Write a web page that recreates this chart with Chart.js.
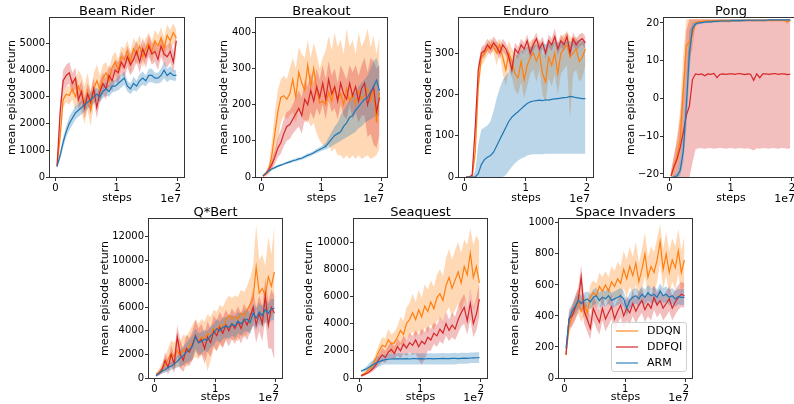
<!DOCTYPE html>
<html>
<head>
<meta charset="utf-8">
<script src="https://cdn.jsdelivr.net/npm/chart.js@4.4.1/dist/chart.umd.min.js"></script>
<style>
html, body { margin:0; padding:0; background:#fff; overflow:hidden; }
#wrap { position:relative; width:794px; height:404px; overflow:hidden; font-family:'DejaVu Sans', sans-serif; color:#000; }
canvas { position:absolute; }
.title { position:absolute; width:200px; text-align:center; font-size:13px; line-height:15px; white-space:nowrap; }
.offset { position:absolute; width:60px; text-align:right; font-size:11px; line-height:13px; }
.legend { position:absolute; box-sizing:border-box; border:1px solid #d0d0d0; border-radius:3px; background:rgba(255,255,255,0.8); }
.legend .row { position:absolute; left:0; height:14px; font-size:11px; line-height:14px; }
.legend .swatch { position:absolute; left:4px; top:6px; width:22px; height:2px; }
.legend .lbl { position:absolute; left:35px; top:0; white-space:nowrap; }
</style>
</head>
<body>
<div id="wrap"></div>
<script>
// training steps, in millions
const STEPS_M = [0.25,0.75,1.25,1.75,2.25,2.75,3.25,3.75,4.25,4.75,5.25,5.75,6.25,6.75,7.25,7.75,8.25,8.75,9.25,9.75,
                 10.25,10.75,11.25,11.75,12.25,12.75,13.25,13.75,14.25,14.75,15.25,15.75,16.25,16.75,17.25,17.75,18.25,18.75,19.25,19.75];
const X_TICKS = [0, 1e7, 2e7];
const SERIES = ['DDQN', 'DDFQI', 'ARM'];

// --- Beam Rider
const BR_YTICKS = [0,1000,2000,3000,4000,5000];
const BR_DDQN    = [400,1500,2900,3100,3050,3300,3000,3400,3100,2700,3200,2500,3300,3600,3300,3700,3900,3600,4100,4300,4000,4500,4400,4700,4300,4800,4600,4900,4500,4800,5000,4700,5100,4900,5200,4800,5300,5100,5400,5200];
const BR_DDQN_LO = [350,1200,2600,2800,2700,2900,2500,2800,2400,2000,2500,1900,2700,3000,2800,3200,3500,3200,3700,3900,3600,4100,4000,4300,3900,4400,4200,4500,4100,4400,4600,4300,4700,4500,4800,4400,4900,4700,5000,4900];
const BR_DDQN_HI = [450,1800,3200,3400,3400,3700,3500,4000,3800,3400,3900,3200,3900,4200,3800,4200,4300,4000,4500,4700,4400,4900,4800,5100,4700,5200,5000,5300,4900,5200,5400,5100,5500,5300,5600,5200,5700,5500,5750,5500];
const BR_DDFQI    = [400,2400,3600,3800,3900,3500,3700,2900,3200,2600,3100,2800,3300,2600,3200,3500,3300,3800,3600,4000,3900,4300,4100,4500,4200,4400,4700,4300,4800,4500,4900,4600,4700,4400,4900,4600,4500,4700,4300,5100];
const BR_DDFQI_LO = [350,2000,3200,3400,3500,3100,3300,2500,2800,2200,2700,2400,2900,2200,2800,3100,2900,3400,3200,3600,3500,3900,3700,4100,3800,4000,4300,3900,4400,4100,4500,4200,4300,4000,4500,4200,4100,4300,3900,4700];
const BR_DDFQI_HI = [450,2800,4000,4200,4300,3900,4100,3300,3600,3000,3500,3200,3700,3000,3600,3900,3700,4200,4000,4400,4300,4700,4500,4900,4600,4800,5100,4700,5200,4900,5300,5000,5100,4800,5300,5000,4900,5100,4700,5400];
const BR_ARM    = [400,800,1300,1700,2000,2200,2400,2500,2600,2700,2800,2900,3000,3100,3000,3200,3300,3200,3400,3400,3500,3600,3700,3400,3300,3500,3400,3600,3700,3600,3800,3800,3700,3700,3800,4000,3800,3900,3800,3800];
const BR_ARM_LO = [350,650,1100,1500,1750,1950,2150,2250,2350,2450,2550,2650,2750,2850,2800,2950,3050,3000,3150,3200,3250,3350,3450,3200,3100,3250,3200,3350,3450,3400,3550,3550,3500,3500,3550,3700,3550,3650,3600,3600];
const BR_ARM_HI = [450,950,1500,1900,2250,2450,2650,2750,2850,2950,3050,3150,3250,3350,3200,3450,3550,3400,3650,3600,3750,3850,3950,3600,3500,3750,3600,3850,3950,3800,4050,4050,3900,3900,4050,4300,4050,4150,4000,4000];

// --- Breakout
const BO_YTICKS = [0,100,200,300,400];
const BO_DDQN    = [2,8,20,60,120,180,220,225,215,230,270,220,290,260,240,310,250,300,240,205,210,200,235,210,250,215,230,200,245,210,230,200,240,215,225,245,210,240,150,235];
const BO_DDQN_LO = [0,2,8,20,50,100,150,170,160,170,180,150,190,170,150,160,140,150,120,100,90,80,90,70,80,60,60,50,60,50,60,50,60,50,55,60,50,55,60,80];
const BO_DDQN_HI = [5,15,35,100,180,240,270,280,270,300,330,300,360,340,330,380,330,370,340,300,330,350,390,350,400,360,380,340,410,360,380,340,400,360,380,410,360,390,340,390];
const BO_DDFQI    = [3,10,20,35,55,80,95,120,140,145,160,175,190,170,215,200,240,210,250,220,260,215,270,230,250,210,260,230,215,260,225,250,210,245,260,200,230,250,180,220];
const BO_DDFQI_LO = [0,5,12,22,35,55,65,85,100,105,120,130,140,120,160,150,180,160,190,170,200,160,210,180,190,160,200,170,160,200,160,180,150,170,170,110,120,90,80,120];
const BO_DDFQI_HI = [5,15,30,50,75,110,130,160,180,185,200,220,240,220,270,250,290,260,300,270,310,270,320,280,300,260,310,290,270,310,290,310,280,310,330,290,330,320,300,310];
const BO_ARM    = [3,10,17,22,26,30,33,36,39,42,45,47,50,52,56,60,63,67,72,76,80,85,95,105,115,120,125,140,150,165,170,185,195,205,215,220,235,250,268,238];
const BO_ARM_LO = [2,8,14,19,23,27,30,33,36,38,41,43,46,48,51,55,58,62,66,70,73,76,80,85,90,95,100,105,110,115,120,125,135,140,150,155,160,165,170,170];
const BO_ARM_HI = [4,12,20,25,29,33,36,39,42,46,49,51,54,56,61,65,68,72,78,82,88,95,110,125,140,150,170,185,200,215,225,235,250,260,270,280,300,320,330,300];

// --- Enduro
const EN_YTICKS = [0,100,200,300];
const EN_DDQN    = [0,0,0,60,220,290,300,310,320,315,300,320,290,260,300,280,250,240,280,235,270,290,300,280,300,250,230,290,270,300,250,300,310,320,290,300,310,280,290,310];
const EN_DDQN_LO = [0,0,0,40,200,270,280,295,305,300,270,300,250,220,260,240,210,200,230,190,220,250,260,230,260,200,180,240,220,250,200,250,260,270,140,250,260,230,240,270];
const EN_DDQN_HI = [0,0,2,80,240,305,315,325,335,330,325,335,320,300,330,310,300,290,320,290,320,330,335,320,335,300,290,330,320,340,310,340,345,350,340,335,340,320,330,330];
const EN_DDFQI    = [0,0,5,120,260,300,305,320,310,325,315,300,320,310,290,260,310,300,320,310,330,300,320,335,310,325,300,330,320,340,310,330,320,340,300,335,320,330,335,325];
const EN_DDFQI_LO = [0,0,2,100,245,285,290,305,295,310,300,285,305,295,275,245,295,285,305,295,315,285,305,320,295,310,285,315,305,325,295,315,305,325,285,320,305,315,320,310];
const EN_DDFQI_HI = [0,0,8,140,275,315,320,335,325,340,330,315,335,325,305,275,325,315,335,325,345,315,335,350,325,340,315,345,335,360,325,345,335,355,315,350,335,345,350,340];
const EN_ARM    = [0,0,0,0,8,30,42,48,52,60,75,90,105,120,135,145,152,158,165,172,178,182,184,185,186,185,187,186,188,189,190,191,192,193,195,194,192,191,190,190];
const EN_ARM_LO = [0,0,0,0,0,0,0,0,0,0,0,0,0,5,15,25,33,40,45,48,52,54,55,55,55,55,56,56,56,56,56,56,56,56,56,56,56,56,56,56];
const EN_ARM_HI = [0,0,0,15,80,115,120,125,135,160,190,215,235,245,255,270,290,300,305,310,315,315,318,320,320,322,322,324,325,326,326,327,328,328,329,329,330,330,330,330];

// --- Pong
const PO_YTICKS = [-20,-10,0,10,20];
const PO_DDQN    = [-20.5,-18,-15,-11,2,14,15,17,20,20.3,20.4,20.5,20.5,20.5,20.6,20.6,20.5,20.6,20.6,20.5,20.6,20.6,20.6,20.7,20.6,20.7,20.7,20.6,20.7,20.7,20.6,20.7,20.7,20.6,20.7,20.7,20.6,20.7,20.3,20.7];
const PO_DDQN_LO = [-21,-21,-19,-16,-8,5,10,13,19.5,19.8,20,20.1,20.2,20.2,20.3,20.3,20.2,20.3,20.3,20.2,20.3,20.3,20.3,20.4,20.3,20.4,20.4,20.3,20.4,20.4,20.3,20.4,20.4,20.3,20.4,20.4,20.3,20.4,19.8,20.4];
const PO_DDQN_HI = [-19.5,-15,-10,-3,12,21,21,21,21,21,21,21,21,21,21,21,21,21,21,21,21,21,21,21,21,21,21,21,21,21,21,21,21,21,21,21,21,21,21,21];
const PO_DDFQI    = [-20.5,-18,-16,-13,-9,-4.5,-2,5,6.5,6.3,6.5,6.0,6.5,6.4,6.6,5.5,6.4,6.5,6.4,6.5,6.5,6.4,6.6,6.5,6.3,6.5,6.4,4.8,6.5,5.5,6.5,6.5,6.4,6.5,6.6,6.4,6.5,6.5,6.3,6.4];
const PO_DDFQI_LO = [-21,-21,-21,-21,-21,-21,-21,-17,-13.5,-13.2,-13.2,-13.3,-13.2,-13.1,-13.3,-13.2,-13.1,-13.2,-13.3,-13.1,-13.2,-13.3,-13.2,-13.1,-13.3,-13.2,-13.4,-13.8,-13.2,-13.3,-13.1,-13.2,-13.3,-13.1,-13.2,-13.3,-13.1,-13.2,-13.3,-13.2];
const PO_DDFQI_HI = [-19,-15,-11,-5,5,18,21,21,21,21,21,21,21,21,21,21,21,21,21,21,21,21,21,21,21,21,21,21,21,21,21,21,21,21,21,21,21,21,21,21];
const PO_ARM    = [-21,-20.8,-20.5,-19,-14,-2,12,18.5,19.7,20,20.1,20.2,20.3,20.3,20.4,20.4,20.5,20.5,20.5,20.5,20.6,20.6,20.6,20.6,20.7,20.7,20.7,20.7,20.7,20.7,20.7,20.7,20.8,20.8,20.8,20.8,20.8,20.8,20.8,20.8];
const PO_ARM_LO = [-21,-21,-21,-20.5,-17,-8,6,17.5,19.2,19.6,19.8,19.9,20,20,20.1,20.1,20.2,20.2,20.2,20.2,20.3,20.3,20.3,20.3,20.4,20.4,20.4,20.4,20.4,20.4,20.4,20.4,20.5,20.5,20.5,20.5,20.5,20.5,20.5,20.5];
const PO_ARM_HI = [-20.8,-20.4,-19.5,-16,-8,5,18,20,20.3,20.5,20.5,20.6,20.7,20.7,20.8,20.8,20.9,20.9,20.9,20.9,21,21,21,21,21,21,21,21,21,21,21,21,21,21,21,21,21,21,21,21];

// --- Q*Bert
const QB_YTICKS = [0,2000,4000,6000,8000,10000,12000];
const QB_DDQN    = [300,500,800,1100,1600,2100,1800,2300,2000,2400,2200,2700,3000,3400,3100,3500,3300,3800,3600,4200,4000,4500,4300,4900,5300,5000,5200,5000,5500,5300,5800,6200,6800,9400,7200,7600,7000,8600,7800,9000];
const QB_DDQN_LO = [200,300,400,500,800,1000,700,1000,800,1100,900,1300,1500,1800,1600,2000,1800,600,1500,2500,2300,2800,2700,3200,3500,3200,3300,3100,3600,3400,3800,4000,4500,6000,4800,5000,4500,5500,5000,6000];
const QB_DDQN_HI = [400,800,1300,1800,2500,3200,3000,3400,3200,3700,3500,4000,4500,5000,4600,5000,4800,5400,5200,5800,5600,6200,6000,6600,7000,6800,7000,6900,7500,7300,7800,8500,9500,13000,10000,10500,9500,12000,10500,13000];
const QB_DDFQI    = [200,400,700,1500,900,2000,1200,3500,2000,1500,2500,2200,2800,3600,3000,3300,2500,3500,3000,4000,3600,4300,3800,4500,4000,4600,4200,4800,4200,5000,4500,5200,6000,4500,5500,4600,7000,4500,6000,5500];
const QB_DDFQI_LO = [100,200,400,800,300,1000,400,2000,800,500,1200,1000,1500,2300,1800,2000,1200,2200,1800,2700,2300,3000,2500,3200,2700,3300,2900,3500,2900,3700,3200,3900,4500,3000,4000,3100,5000,2500,2500,1500];
const QB_DDFQI_HI = [300,600,1000,2200,1500,2800,2000,4500,3200,2500,3700,3400,4000,4900,4200,4600,3800,4800,4200,5300,4900,5600,5100,5800,5300,5900,5500,6100,5500,6300,5800,6500,7500,6000,7000,6100,8500,6500,7500,7000];
const QB_ARM    = [200,400,600,700,900,1000,1200,1400,1700,1900,2200,2400,2700,3500,3000,3100,3300,3200,3600,3800,4200,4000,4300,4400,4300,4600,4400,4800,4600,4900,5000,4700,5500,5100,5600,5300,5800,5500,5900,5900];
const QB_ARM_LO = [100,250,400,450,600,650,800,900,1000,1100,1300,1400,1600,2500,2000,2100,2300,2200,2600,2800,3200,3000,3300,3400,3300,3600,3400,3800,3600,3900,4000,3700,4500,4100,4600,4300,4800,4500,4900,4900];
const QB_ARM_HI = [300,550,800,950,1200,1400,1600,1900,2400,2700,3000,3300,3600,4200,3800,3900,4100,4000,4400,4600,5000,4800,5100,5200,5100,5400,5200,5600,5400,5700,5800,5500,6300,5900,6400,6100,6600,6300,6700,6700];

// --- Seaquest
const SQ_YTICKS = [0,2000,4000,6000,8000,10000];
const SQ_DDQN    = [200,300,500,700,1000,1500,2000,2400,2300,2800,2500,2600,3000,3500,3200,4000,4300,4800,4300,5000,4500,5300,4900,5600,5100,5900,6200,5700,6800,7400,6600,7200,7800,7000,8200,7600,9200,7400,8200,7000];
const SQ_DDQN_LO = [150,200,350,500,700,1100,1500,1800,1700,2000,1800,1900,2200,2500,2300,2900,3100,3400,3000,3500,3100,3700,3300,4000,3500,4200,4400,4000,4800,5200,4500,5000,5500,4800,5800,5300,6500,5000,5800,4200];
const SQ_DDQN_HI = [250,450,650,900,1300,1900,2500,3000,2900,3600,3200,3400,3800,4500,4200,5200,5500,6200,5600,6500,5900,6900,6500,7200,6700,7600,8000,7500,8800,9500,8700,9400,10000,9200,10200,9800,11000,9800,10500,10000];
const SQ_DDFQI    = [150,250,350,500,700,1000,1400,1700,1500,1900,2100,1800,2300,2000,2500,2200,2600,2400,2800,2300,2700,2500,3000,2800,3300,3100,3600,3300,4000,3500,3900,3600,4300,4800,5200,4200,5500,4000,4700,5800];
const SQ_DDFQI_LO = [100,150,250,350,500,700,1000,1200,1100,1400,1500,1300,1700,1400,1800,1600,1900,1700,1800,1300,1000,1400,2000,2000,2500,2300,2700,2500,3100,2700,3000,2800,3300,3800,4000,3200,4300,3000,3500,4500];
const SQ_DDFQI_HI = [200,350,450,650,900,1300,1800,2200,2000,2400,2700,2300,2900,2600,3100,2800,3300,3100,3500,3200,3600,3400,3800,3600,4100,3900,4500,4100,4900,4300,4800,4500,5300,5800,6200,5200,6600,5200,5900,7000];
const SQ_ARM    = [500,600,700,850,1000,1100,1200,1300,1350,1380,1400,1400,1420,1400,1410,1420,1400,1420,1430,1410,1420,1400,1430,1420,1410,1430,1420,1440,1430,1420,1440,1450,1430,1450,1460,1440,1470,1480,1490,1500];
const SQ_ARM_LO = [450,500,550,600,700,750,850,950,1000,1000,1000,1000,1000,1000,1000,1000,1000,1000,1000,1000,1000,1000,1000,1000,1000,1000,1000,1000,1000,1000,1000,1000,1050,1050,1050,1050,1100,1100,1100,1100];
const SQ_ARM_HI = [550,700,900,1150,1350,1500,1600,1700,1750,1780,1800,1800,1820,1800,1810,1820,1800,1820,1830,1810,1820,1800,1830,1820,1810,1830,1820,1840,1830,1820,1840,1850,1830,1850,1860,1840,1870,1880,1890,1900];

// --- Space Invaders
const SI_YTICKS = [0,200,400,600,800,1000];
const SI_DDQN    = [150,330,400,450,500,430,470,420,520,550,530,590,560,600,560,620,590,640,610,700,640,720,660,740,620,700,800,650,720,680,760,880,700,800,680,760,710,820,680,760];
const SI_DDQN_LO = [130,280,340,380,420,360,400,350,440,470,450,500,470,510,470,520,490,530,500,580,520,590,540,600,500,570,660,520,590,550,620,740,570,660,540,620,570,670,540,600];
const SI_DDQN_HI = [170,380,460,520,580,500,540,490,600,630,610,680,650,690,650,720,690,750,720,820,760,850,780,880,740,830,940,780,850,810,900,990,830,940,820,900,850,960,820,920];
const SI_DDFQI    = [150,380,400,450,500,650,430,380,320,450,400,360,450,380,420,460,380,430,470,400,450,420,480,430,470,500,440,480,450,520,470,500,450,480,510,450,490,520,540,530];
const SI_DDFQI_LO = [130,320,330,370,420,480,350,300,250,370,320,280,370,300,340,380,300,350,390,320,370,340,400,350,390,420,360,400,370,440,390,420,370,400,430,370,410,440,460,450];
const SI_DDFQI_HI = [170,440,470,530,580,730,510,460,400,530,480,440,530,460,500,540,460,510,550,480,530,500,560,510,550,580,520,560,530,600,550,580,530,560,590,530,570,600,620,610];
const SI_ARM    = [190,380,430,460,500,480,500,510,490,520,530,500,520,510,530,500,510,520,530,510,450,500,520,530,510,540,520,550,530,540,520,560,530,540,520,530,510,525,520,520];
const SI_ARM_LO = [170,340,390,410,450,430,450,460,440,470,480,450,470,460,480,450,460,470,480,460,400,450,470,480,460,490,470,500,480,490,470,510,480,490,470,480,460,475,470,470];
const SI_ARM_HI = [210,420,470,510,550,530,550,560,540,570,580,550,570,560,580,550,560,570,580,560,500,550,570,580,560,590,570,600,580,590,570,610,580,590,570,580,560,575,570,570];

const COLORS = { DDQN:'#ff7f0e', DDFQI:'#d62728', ARM:'#1f77b4' };
const BANDS  = { DDQN:'rgba(255,127,14,0.3)', DDFQI:'rgba(214,39,40,0.3)', ARM:'rgba(31,119,180,0.3)' };
const LEGEND_COLORS = { DDQN:'rgba(255,127,14,0.55)', DDFQI:'rgba(214,39,40,0.6)', ARM:'rgba(31,119,180,0.55)' };

// box = plot area [left, top, right, bottom] in page px
const GAMES = [
  { title:'Beam Rider', box:[50,18,184,177], labelX:12.5, bottom:205, yMin:0, yMax:5950, yTicks:BR_YTICKS,
    data:{ DDQN:[BR_DDQN,BR_DDQN_LO,BR_DDQN_HI], DDFQI:[BR_DDFQI,BR_DDFQI_LO,BR_DDFQI_HI], ARM:[BR_ARM,BR_ARM_LO,BR_ARM_HI] } },
  { title:'Breakout', box:[256,18,387,177], labelX:224.5, bottom:205, yMin:0, yMax:440, yTicks:BO_YTICKS,
    data:{ DDQN:[BO_DDQN,BO_DDQN_LO,BO_DDQN_HI], DDFQI:[BO_DDFQI,BO_DDFQI_LO,BO_DDFQI_HI], ARM:[BO_ARM,BO_ARM_LO,BO_ARM_HI] } },
  { title:'Enduro', box:[459,18,593,177], labelX:429, bottom:205, yMin:0, yMax:385, yTicks:EN_YTICKS,
    data:{ DDQN:[EN_DDQN,EN_DDQN_LO,EN_DDQN_HI], DDFQI:[EN_DDFQI,EN_DDFQI_LO,EN_DDFQI_HI], ARM:[EN_ARM,EN_ARM_LO,EN_ARM_HI] } },
  { title:'Pong', box:[664,18,798,177], labelX:631.5, bottom:205, yMin:-20.8, yMax:21.3, yTicks:PO_YTICKS,
    data:{ DDQN:[PO_DDQN,PO_DDQN_LO,PO_DDQN_HI], DDFQI:[PO_DDFQI,PO_DDFQI_LO,PO_DDFQI_HI], ARM:[PO_ARM,PO_ARM_LO,PO_ARM_HI] } },
  { title:'Q*Bert', box:[149,219,282,378], labelX:106, bottom:404, yMin:0, yMax:13500, yTicks:QB_YTICKS,
    data:{ DDQN:[QB_DDQN,QB_DDQN_LO,QB_DDQN_HI], DDFQI:[QB_DDFQI,QB_DDFQI_LO,QB_DDFQI_HI], ARM:[QB_ARM,QB_ARM_LO,QB_ARM_HI] } },
  { title:'Seaquest', box:[354,219,487,378], labelX:310, bottom:404, yMin:0, yMax:11700, yTicks:SQ_YTICKS,
    data:{ DDQN:[SQ_DDQN,SQ_DDQN_LO,SQ_DDQN_HI], DDFQI:[SQ_DDFQI,SQ_DDFQI_LO,SQ_DDFQI_HI], ARM:[SQ_ARM,SQ_ARM_LO,SQ_ARM_HI] } },
  { title:'Space Invaders', box:[559,219,692,378], labelX:516, bottom:404, yMin:0, yMax:1025, yTicks:SI_YTICKS, legend:true,
    data:{ DDQN:[SI_DDQN,SI_DDQN_LO,SI_DDQN_HI], DDFQI:[SI_DDFQI,SI_DDFQI_LO,SI_DDFQI_HI], ARM:[SI_ARM,SI_ARM_LO,SI_ARM_HI] } }
];

const wrap = document.getElementById('wrap');
const pts = arr => arr.map((v, i) => ({ x: STEPS_M[i] * 1e6, y: v }));
const fmtNum = v => v < 0 ? '\u2212' + Math.abs(v) : String(v);

// matplotlib-like box around the axes
const framePlugin = {
  id: 'frame',
  afterDatasetsDraw(chart) {
    const { ctx, chartArea: a } = chart;
    ctx.save();
    ctx.strokeStyle = '#333';
    ctx.lineWidth = 1;
    ctx.strokeRect(Math.round(a.left) - 0.5, Math.round(a.top) - 0.5, Math.round(a.right - a.left) + 1, Math.round(a.bottom - a.top) + 1);
    ctx.restore();
  }
};

function addText(cls, text, css) {
  const d = document.createElement('div');
  d.className = cls;
  d.textContent = text;
  Object.assign(d.style, css);
  wrap.appendChild(d);
}

function makeChart(g) {
  const [pl, pt, pr, pb] = g.box;
  const left = Math.round(g.labelX - 6.6);
  const top = pt - 10;
  const cv = document.createElement('canvas');
  cv.width = pr + 8 - left;
  cv.height = g.bottom - top;
  cv.style.left = left + 'px';
  cv.style.top = top + 'px';
  wrap.appendChild(cv);

  const datasets = [];
  let order = 50;
  SERIES.forEach(name => {
    const [, lo, hi] = g.data[name];
    datasets.push({ data: pts(lo), borderWidth: 0, borderColor: 'transparent', pointRadius: 0, fill: false, order: order-- });
    datasets.push({ data: pts(hi), borderWidth: 0, borderColor: 'transparent', pointRadius: 0, fill: '-1', backgroundColor: BANDS[name], order: order-- });
  });
  SERIES.forEach(name => {
    datasets.push({ data: pts(g.data[name][0]), borderColor: COLORS[name], borderWidth: 1.2, pointRadius: 0, fill: false, order: order-- });
  });

  const grid = { drawOnChartArea: false, drawTicks: true, tickLength: 4, color: '#333', lineWidth: 1 };

  new Chart(cv, {
    type: 'line',
    data: { datasets },
    plugins: [framePlugin],
    options: {
      responsive: false,
      animation: false,
      devicePixelRatio: 1,
      layout: { padding: { top: 10, right: 8, left: 0, bottom: 0 } },
      plugins: { legend: { display: false }, tooltip: { enabled: false } },
      elements: { line: { tension: 0 } },
      scales: {
        x: {
          type: 'linear', min: -0.09e7, max: 2.1e7,
          afterBuildTicks: s => { s.ticks = X_TICKS.map(v => ({ value: v })); },
          afterFit: s => { s.height = g.bottom - pb; },
          ticks: { callback: v => String(v / 1e7), maxRotation: 0, autoSkip: false, padding: 1, color: '#000', font: { size: 10 } },
          grid, border: { display: false },
          title: { display: true, text: 'steps', color: '#000', font: { size: 11 }, padding: 0 }
        },
        y: {
          type: 'linear', min: g.yMin, max: g.yMax,
          afterBuildTicks: s => { s.ticks = g.yTicks.map(v => ({ value: v })); },
          afterFit: s => { s.width = pl - left; },
          ticks: { callback: fmtNum, autoSkip: false, padding: 1, color: '#000', font: { size: 10 } },
          grid, border: { display: false },
          title: { display: true, text: 'mean episode return', color: '#000', font: { size: 11 }, padding: 0 }
        }
      }
    }
  });

  const cy = pt < 100 ? 10.5 : 211.5;
  addText('title', g.title, { left: ((pl + pr) / 2 - 100) + 'px', top: (cy - 7.5) + 'px' });
  addText('offset', '1e7', { left: (pr - 3 - 60) + 'px', top: (g.bottom - 6.6 - 6.5) + 'px' });

  if (g.legend) {
    const lg = document.createElement('div');
    lg.className = 'legend';
    Object.assign(lg.style, { left: '611px', top: '322px', width: '76px', height: '50px' });
    SERIES.forEach((name, i) => {
      const row = document.createElement('div');
      row.className = 'row';
      row.style.top = (1 + i * 16) + 'px';
      row.style.width = '74px';
      row.innerHTML = `<div class="swatch" style="background:${LEGEND_COLORS[name]}"></div><div class="lbl">${name}</div>`;
      lg.appendChild(row);
    });
    wrap.appendChild(lg);
  }
}

Chart.defaults.font.family = "'DejaVu Sans', sans-serif";
Chart.defaults.color = '#000';
GAMES.forEach(makeChart);
</script>
</body>
</html>
